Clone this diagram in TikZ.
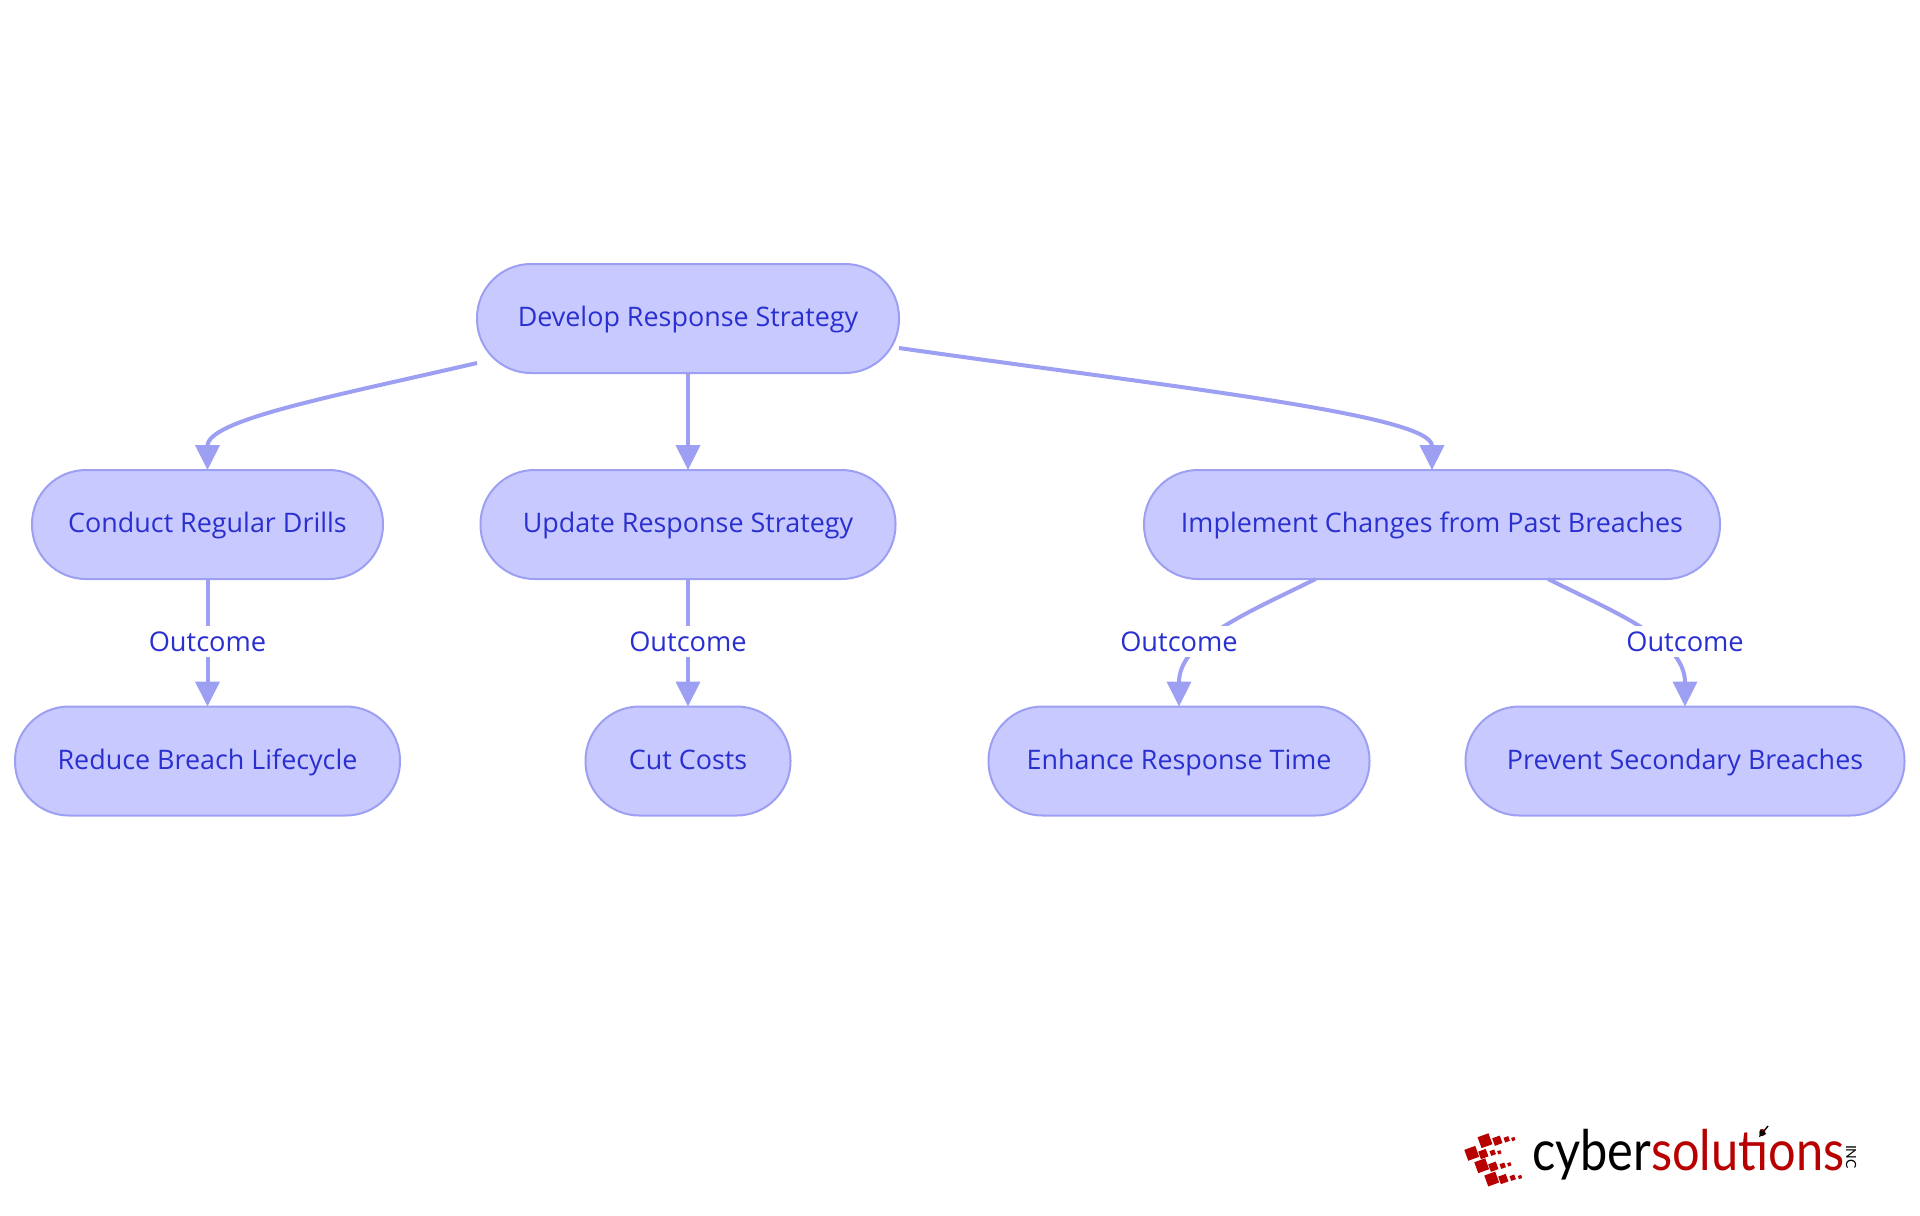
\documentclass[tikz,border=0pt]{standalone}
\usepackage{fontspec}
\setmainfont{Open Sans}
\newfontfamily\logofont{Lato}
\usetikzlibrary{arrows.meta,calc}
\definecolor{boxfill}{HTML}{C8CAFF}
\definecolor{boxline}{HTML}{9C9FF2}
\definecolor{inktext}{HTML}{2A2FCF}
\definecolor{logored}{HTML}{B80000}
\tikzset{
  pill/.style={draw=boxline,fill=boxfill,line width=1pt,rounded corners=27pt,minimum height=54.5pt,
    inner xsep=0pt,outer sep=0pt,text=inktext,font=\fontsize{13.45pt}{15pt}\selectfont,
    text height=11pt,text depth=3pt,anchor=center},
  link/.style={draw=boxline,line width=2pt,-{Triangle[length=12.5pt,width=12pt]}},
  outlabel/.style={fill=white,text=inktext,font=\fontsize{13.6pt}{15pt}\selectfont,inner xsep=0pt,inner ysep=0pt,
    minimum width=60pt,minimum height=15.5pt,outer sep=0pt}
}
\begin{document}
\begin{tikzpicture}[x=.5pt,y=-.5pt]
\useasboundingbox (0,0) rectangle (1920,1215);
\node[pill,minimum width=211pt] (dev) at (688,318.5) {Develop Response Strategy};
\node[pill,minimum width=175.5pt] (drill) at (207.5,524.5) {Conduct Regular Drills};
\node[pill,minimum width=207.5pt] (upd) at (688,524.5) {Update Response Strategy};
\node[pill,minimum width=288pt] (impl) at (1432,524.5) {Implement Changes from Past Breaches};
\node[pill,minimum width=192.5pt] (red) at (207.5,761) {Reduce Breach Lifecycle};
\node[pill,minimum width=102.5pt] (cut) at (688,761) {Cut Costs};
\node[pill,minimum width=190.5pt] (enh) at (1179,761) {Enhance Response Time};
\node[pill,minimum width=219.5pt] (prev) at (1685,761) {Prevent Secondary Breaches};

\coordinate (devl) at ($(dev.west)+(0,44.5)$);
\coordinate (devr) at ($(dev.east)+(0,29.5)$);
\coordinate (impll) at ($(impl.south)+(-116.5,0)$);
\coordinate (implr) at ($(impl.south)+(116,0)$);

\draw[link] (devl) .. controls +(-147,34) and (207.5,420) .. (drill.north);
\draw[link] (dev.south) -- (upd.north);
\draw[link] (devr) .. controls +(281,40) and (1432,415) .. (impl.north);
\draw[link] (drill.south) -- (red.north);
\draw[link] (upd.south) -- (cut.north);
\draw[link] (impll) .. controls +(-66,33) and (1179,640) .. (enh.north);
\draw[link] (implr) .. controls +(66,33) and (1685,640) .. (prev.north);

\node[outlabel] (o1) at (207.5,641.5) {Outcome};
\node[outlabel] (o2) at (688,641.5) {Outcome};
\node[outlabel] (o3) at (1179,641.5) {Outcome};
\node[outlabel] (o4) at (1685,641.5) {Outcome};

% logo
\foreach \a/\b/\c in {
 1485/1140.7/5.8, 1497.3/1140.7/4, 1506.7/1139.3/2.5, 1513.3/1139/1.7,
 1471.7/1153.3/5.8, 1483.3/1154/4, 1492.7/1152.7/2.5, 1499.3/1152.3/1.7,
 1481.7/1165.7/5.8, 1493.3/1166.7/4, 1502.7/1165.7/2.5, 1509.3/1164.3/1.7,
 1491.7/1179/5.8, 1503.3/1179/4, 1512.7/1177.7/2.5, 1520/1177/1.7}
 {\begin{scope}[shift={(\a,\b)},rotate=20]
  \fill[logored] (-\c,-\c) rectangle (\c,\c);
  \end{scope}}
\node[anchor=base west,inner sep=0pt,outer sep=0pt,font=\logofont\fontsize{28pt}{30pt}\selectfont] (logo) at (1532,1170)
  {\scalebox{.87}[1]{\textcolor{black}{cyber}\textcolor{logored}{solutions}}};
\node[rotate=-90,inner sep=0pt,font=\logofont\fontsize{7pt}{8pt}\selectfont,text=black] (inc) at (1851,1157) {INC};
\coordinate (arrs) at (1768,1126);
\coordinate (arrt) at (1759,1137);
\draw[black,line width=.7pt,-{Triangle[length=3.5pt,width=3.5pt]}] (arrs) -- (arrt);
\end{tikzpicture}
\end{document}
